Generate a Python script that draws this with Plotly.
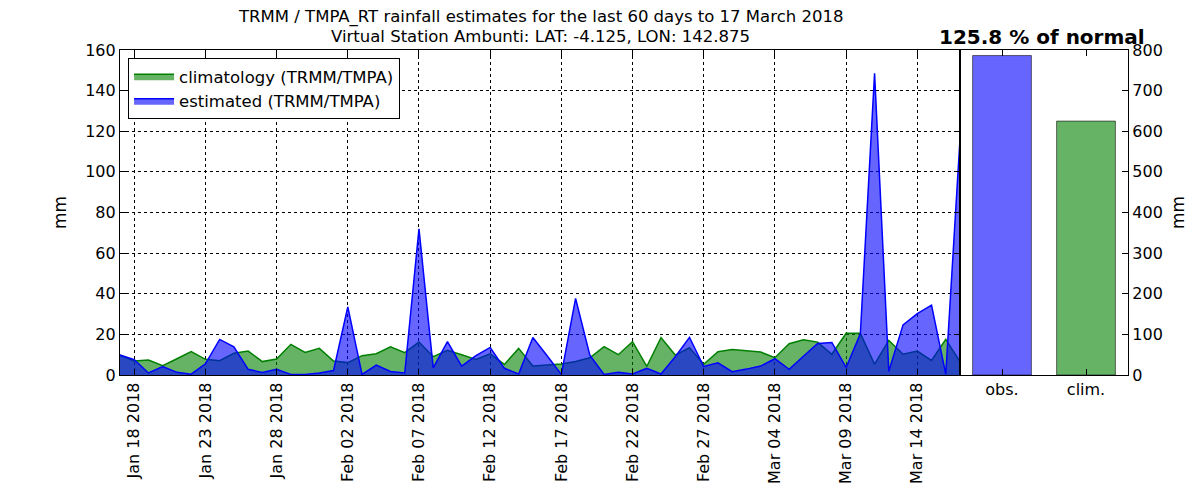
import plotly.graph_objects as go
import pandas as pd

# ---- data ----
start_date = "2018-01-17"
n_days = 60
climatology = [9.8, 6.9, 7.4, 4.6, 8.0, 11.5, 7.7, 7.0, 10.7, 11.8,
               6.6, 7.9, 15.1, 11.1, 13.1, 6.9, 6.1, 9.5, 10.5, 13.9,
               11.0, 16.2, 9.0, 12.2, 10.0, 7.7, 10.4, 5.2, 13.1, 4.4,
               4.9, 5.4, 6.6, 8.5, 14.0, 10.0, 16.4, 4.2, 18.4, 9.8,
               13.4, 5.3, 11.5, 12.6, 12.0, 11.3, 8.5, 15.4, 17.3, 16.2,
               10.2, 20.5, 20.5, 5.3, 17.0, 10.2, 11.8, 7.2, 17.5, 6.6]
estimated = [9.8, 7.6, 1.0, 4.2, 1.3, 0.4, 5.5, 17.5, 13.9, 2.8,
             1.2, 2.8, 0.3, 0.3, 1.0, 2.2, 33.5, 0.3, 4.9, 1.7,
             1.0, 72.0, 3.5, 16.4, 4.4, 9.5, 13.6, 3.3, 0.5, 18.5,
             9.5, 0.3, 37.7, 9.8, 0.3, 1.3, 0.5, 3.3, 0.5, 9.0,
             18.5, 4.2, 6.0, 1.6, 2.9, 4.4, 8.0, 2.8, 9.2, 15.5,
             16.0, 3.7, 20.3, 148.5, 1.8, 24.7, 30.2, 34.4, 0.4, 116.0]
bar_labels = ["obs.", "clim."]
bar_values = [786.3, 625.0]
percent_of_normal = 125.8

dates = pd.date_range(start_date, periods=n_days, freq="D")

FONT = "DejaVu Sans"
fig = go.Figure()
fig.add_trace(go.Scatter(
    x=dates, y=climatology, mode="lines", fill="tozeroy",
    line=dict(color="#008000", width=1.5), fillcolor="rgba(0,128,0,0.6)",
    name="climatology (TRMM/TMPA)", xaxis="x", yaxis="y"))
fig.add_trace(go.Scatter(
    x=dates, y=estimated, mode="lines", fill="tozeroy",
    line=dict(color="#0000ff", width=1.5), fillcolor="rgba(0,0,255,0.6)",
    name="estimated (TRMM/TMPA)", xaxis="x", yaxis="y"))
fig.add_trace(go.Bar(
    x=[0, 1], y=bar_values, width=0.7,
    marker=dict(color=["rgba(0,0,255,0.6)", "rgba(0,128,0,0.6)"],
                line=dict(color="rgba(0,0,0,0.55)", width=1)),
    xaxis="x2", yaxis="y2", showlegend=False))

axis_common = dict(showline=True, linecolor="black", linewidth=1.2,
                   ticks="inside", ticklen=6, tickcolor="black",
                   tickfont=dict(size=16, color="black", family=FONT),
                   zeroline=False, automargin=False)

split = 840 / 1008
# the page body adds an 8 px offset, so the figure is drawn 8 px smaller
fig.update_layout(
    width=1192, height=492,
    margin=dict(l=112, r=72, t=42, b=125),
    paper_bgcolor="white", plot_bgcolor="white",
    font=dict(family=FONT, color="black", size=16),
    xaxis=dict(domain=[0, split], type="date",
               range=[dates[0], dates[-1]],
               tick0="2018-01-18", dtick=5 * 86400000,
               tickformat="%b %d %Y", tickangle=-90,
               mirror="ticks", showgrid=True, gridcolor="black",
               griddash="dot", gridwidth=0.9, anchor="y", **axis_common),
    yaxis=dict(domain=[0, 1], range=[0, 160], dtick=20,
               mirror="ticks", showgrid=True, gridcolor="black",
               griddash="dot", gridwidth=0.9, anchor="x",
               title=dict(text="mm", font=dict(size=17), standoff=14),
               **axis_common),
    xaxis2=dict(domain=[split, 1], range=[-0.5, 1.5],
                tickvals=[0, 1], ticktext=bar_labels, tickangle=0,
                mirror="ticks", showgrid=False, anchor="y2",
                **axis_common),
    yaxis2=dict(domain=[0, 1], range=[0, 800], dtick=100, side="right",
                mirror=True, showgrid=False, anchor="x2",
                title=dict(text="mm", font=dict(size=17), standoff=10),
                **axis_common),
    legend=dict(x=0.008, y=0.975, xanchor="left", yanchor="top",
                bgcolor="white", bordercolor="black", borderwidth=1,
                font=dict(size=16.5, color="black", family=FONT),
                tracegroupgap=2, itemwidth=40),
    showlegend=True,
    annotations=[
        dict(text="TRMM / TMPA_RT rainfall estimates for the last 60 days to 17 March 2018",
             xref="paper", yref="paper", x=420 / 1008, y=(375 - 17) / 325,
             xanchor="center", yanchor="middle", showarrow=False,
             font=dict(size=16.5, color="black")),
        dict(text="Virtual Station Ambunti: LAT: -4.125, LON: 142.875",
             xref="paper", yref="paper", x=420 / 1008, y=(375 - 37) / 325,
             xanchor="center", yanchor="middle", showarrow=False,
             font=dict(size=16.5, color="black")),
        dict(text="<b>%.1f %% of normal</b>" % percent_of_normal,
             xref="paper", yref="paper", x=922 / 1008, y=(375 - 37) / 325,
             xanchor="center", yanchor="middle", showarrow=False,
             font=dict(size=20, color="black")),
    ],
)

fig.write_html("out.html")
